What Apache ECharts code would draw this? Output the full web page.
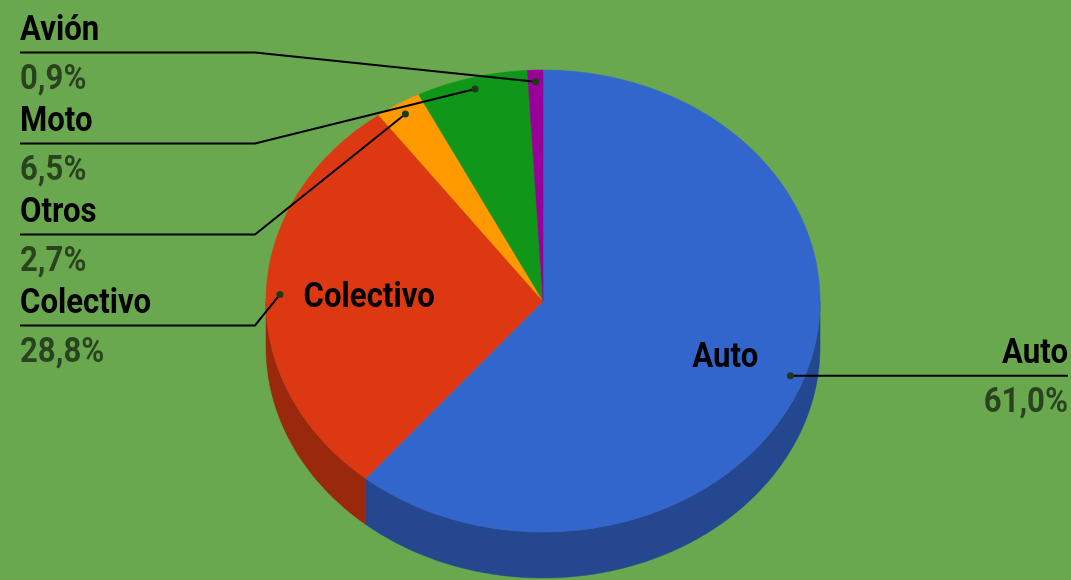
<!DOCTYPE html>
<html><head><meta charset="utf-8">
<script src="https://cdn.jsdelivr.net/npm/echarts@6/dist/echarts.min.js"></script>
<style>html,body{margin:0;padding:0;background:#6aa84f}#c{width:1071px;height:580px}</style>
</head><body><div id="c"></div>
<script>
const categories = ['Auto', 'Colectivo', 'Otros', 'Moto', 'Avión'];
const shares = [61.0, 28.8, 2.7, 6.5, 0.9];
const colors = ['#3366cc', '#dc3912', '#ff9900', '#109618', '#990099'];

const CX = 543, CY = 301, RX = 277, RY = 231, DEPTH = 46;
const FONT = "Roboto, 'Liberation Sans', sans-serif";
const FS = 35, SX = 0.89;
const total = shares.reduce((a, b) => a + b, 0);
const starts = [];
let acc = 0;
shares.forEach(v => { starts.push(acc); acc += v; });

function pt(t, f) { return [CX + RX * f * Math.sin(t), CY - RY * f * Math.cos(t)]; }
function darken(hex, k) {
  const n = parseInt(hex.slice(1), 16);
  const r = Math.round(((n >> 16) & 255) * k), g = Math.round(((n >> 8) & 255) * k), b = Math.round((n & 255) * k);
  return 'rgb(' + r + ',' + g + ',' + b + ')';
}
function fmt(v) { return v.toFixed(1).replace('.', ',') + '%'; }
function midAngle(i) { return (starts[i] + shares[i] / 2) / total * Math.PI * 2; }
const leftOrder = shares.map((v, i) => i).filter(i => Math.sin(midAngle(i)) < 0)
  .sort((a, b) => pt(midAngle(a), 0.95)[1] - pt(midAngle(b), 0.95)[1]);

function txt(x, y, s, fill, align) {
  return { type: 'text', z2: 10, x: x, y: y, scaleX: SX,
    style: { text: s, fill: fill, font: 'bold ' + FS + 'px ' + FONT, align: align, verticalAlign: 'middle' } };
}

function renderItem(params, api) {
  const i = params.dataIndex;
  const v = api.value(0);
  const t0 = starts[i] / total * Math.PI * 2;
  const t1 = (starts[i] + v) / total * Math.PI * 2;
  const tm = (t0 + t1) / 2;
  const children = [];
  const step = Math.PI / 360;
  const a = Math.max(t0, Math.PI / 2), b = Math.min(t1, Math.PI * 1.5);
  if (b > a) {
    const top = [];
    for (let t = a; t < b; t += step) top.push(pt(t, 1));
    top.push(pt(b, 1));
    const bottom = top.map(p => [p[0], p[1] + DEPTH]).reverse();
    children.push({ type: 'polygon', z2: 0, shape: { points: top.concat(bottom) },
      style: { fill: darken(colors[i], 0.7), stroke: darken(colors[i], 0.7), lineWidth: 0.5 } });
  }
  const pts = [[CX, CY]];
  for (let t = t0; t < t1; t += step) pts.push(pt(t, 1));
  pts.push(pt(t1, 1));
  children.push({ type: 'polygon', z2: 1, shape: { points: pts },
    style: { fill: colors[i], stroke: colors[i], lineWidth: 0.5 } });
  if (v / total > 0.1) {
    const lp = pt(tm, 0.7);
    const shift = Math.max(0, (categories[i].length - 5) * 5) * (Math.sin(tm) < 0 ? 1 : -1);
    const el = txt(lp[0] + shift, lp[1] + 2, categories[i], '#000', 'center');
    el.z2 = 5;
    children.push(el);
  }
  const dot = pt(tm, 0.95);
  const left = Math.sin(tm) < 0;
  let ly, line, tx, align;
  if (left) {
    const k = leftOrder.indexOf(i);
    ly = 52.5 + k * 91;
    tx = 20; align = 'left';
    line = [[20, ly], [255, ly], dot];
  } else {
    ly = dot[1];
    tx = 1068; align = 'right';
    line = [[1068, ly], dot];
  }
  children.push({ type: 'polyline', z2: 10, shape: { points: line }, style: { stroke: '#000', lineWidth: 2, fill: null } });
  children.push({ type: 'circle', z2: 11, shape: { cx: dot[0], cy: dot[1], r: 3.5 }, style: { fill: '#1f3a1a' } });
  children.push(txt(tx, ly - 21, categories[i], '#000', align));
  children.push(txt(tx, ly + 28, fmt(v), 'rgba(0,0,0,0.6)', align));
  return { type: 'group', children: children };
}

const chart = echarts.init(document.getElementById('c'), null, { renderer: 'canvas' });
chart.setOption({
  backgroundColor: '#6aa84f',
  animation: false,
  series: [{
    type: 'custom',
    coordinateSystem: 'none',
    renderItem: renderItem,
    data: shares.map((v, i) => ({ name: categories[i], value: [v] }))
  }]
});
</script>
</body></html>
